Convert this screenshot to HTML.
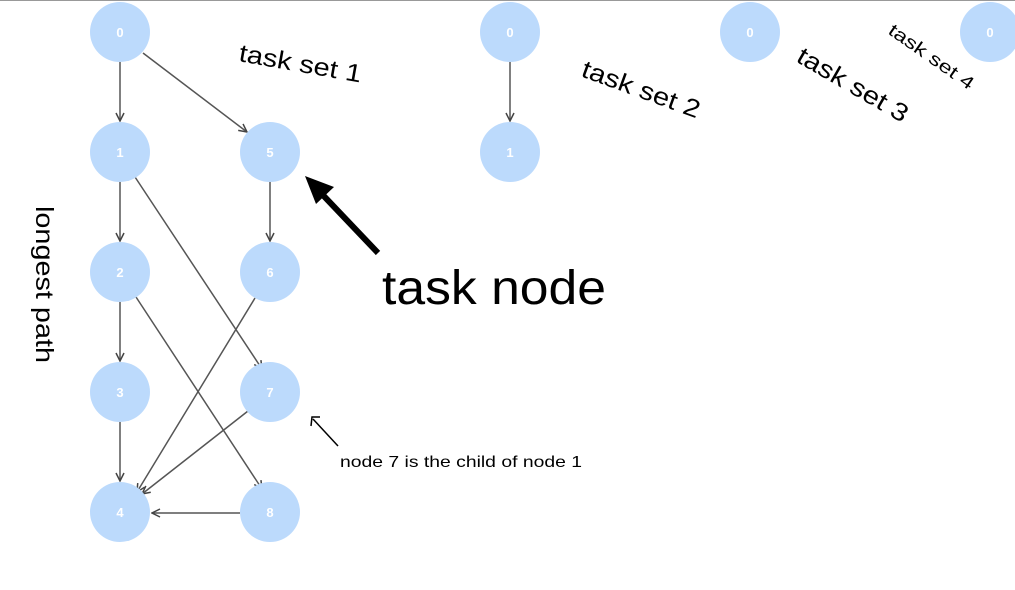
<!DOCTYPE html>
<html><head><style>
html,body{margin:0;padding:0;background:#fff;}
body{width:1015px;height:589px;overflow:hidden;position:relative;border-top:1px solid #999;box-sizing:border-box;}
svg{position:absolute;left:0;top:0;}
</style></head><body>
<svg width="1015" height="589" viewBox="0 0 1015 589" font-family="Liberation Sans, sans-serif">
<defs>
<marker id="a" markerWidth="10" markerHeight="10" refX="9" refY="5" orient="auto" markerUnits="userSpaceOnUse">
<path d="M1,1 L9,5 L1,9" fill="none" stroke="#444" stroke-width="1.5"/></marker>
</defs>
<g stroke="#555" stroke-width="1.5" marker-end="url(#a)">
<line x1="120" y1="61" x2="120" y2="120"/>
<line x1="143" y1="52" x2="247" y2="131"/>
<line x1="120" y1="181" x2="120" y2="240"/>
<line x1="135" y1="176" x2="262" y2="368"/>
<line x1="270" y1="181" x2="270" y2="240"/>
<line x1="120" y1="301" x2="120" y2="360"/>
<line x1="136" y1="296" x2="262" y2="488"/>
<line x1="255" y1="297" x2="137" y2="491"/>
<line x1="248" y1="410" x2="142" y2="493"/>
<line x1="120" y1="421" x2="120" y2="480"/>
<line x1="240" y1="512" x2="152" y2="512"/>
<line x1="510" y1="61" x2="510" y2="120"/>
</g>
<g fill="#bcdafc">
<circle cx="120" cy="31" r="30"/><circle cx="120" cy="151" r="30"/><circle cx="270" cy="151" r="30"/>
<circle cx="120" cy="271" r="30"/><circle cx="270" cy="271" r="30"/><circle cx="120" cy="391" r="30"/>
<circle cx="270" cy="391" r="30"/><circle cx="120" cy="511" r="30"/><circle cx="270" cy="511" r="30"/>
<circle cx="510" cy="31" r="30"/><circle cx="510" cy="151" r="30"/><circle cx="750" cy="31" r="30"/><circle cx="990" cy="31" r="30"/>
</g>
<g fill="#fff" font-size="13" font-weight="bold" text-anchor="middle">
<text x="120" y="36">0</text><text x="120" y="156">1</text><text x="270" y="156">5</text>
<text x="120" y="276">2</text><text x="270" y="276">6</text><text x="120" y="396">3</text>
<text x="270" y="396">7</text><text x="120" y="516">4</text><text x="270" y="516">8</text>
<text x="510" y="36">0</text><text x="510" y="156">1</text><text x="750" y="36">0</text><text x="990" y="36">0</text>
</g>
<g fill="#000">
<text x="238" y="60" font-size="25" textLength="124" lengthAdjust="spacingAndGlyphs" transform="rotate(10 238 60)">task set 1</text>
<text x="580" y="75" font-size="25" textLength="124" lengthAdjust="spacingAndGlyphs" transform="rotate(20 580 75)">task set 2</text>
<text x="795" y="60" font-size="25" textLength="124" lengthAdjust="spacingAndGlyphs" transform="rotate(30 795 60)">task set 3</text>
<text x="887" y="32" font-size="18" textLength="100" lengthAdjust="spacingAndGlyphs" transform="rotate(35 887 32)">task set 4</text>
<text x="382" y="303" font-size="48" textLength="224" lengthAdjust="spacingAndGlyphs">task node</text>
<text x="36" y="205" font-size="25" textLength="157" lengthAdjust="spacingAndGlyphs" transform="rotate(90 36 205)">longest path</text>
<text x="340" y="466" font-size="16" textLength="242" lengthAdjust="spacingAndGlyphs">node 7 is the child of node 1</text>
</g>
<line x1="378" y1="252" x2="320" y2="191" stroke="#000" stroke-width="6"/>
<polygon points="305,175 334,186 316,203" fill="#000"/>
<line x1="338" y1="445" x2="313" y2="418" stroke="#000" stroke-width="1.5"/>
<path d="M311,425 L312,416 L320,416" fill="none" stroke="#000" stroke-width="1.5"/>
</svg>
</body></html>
